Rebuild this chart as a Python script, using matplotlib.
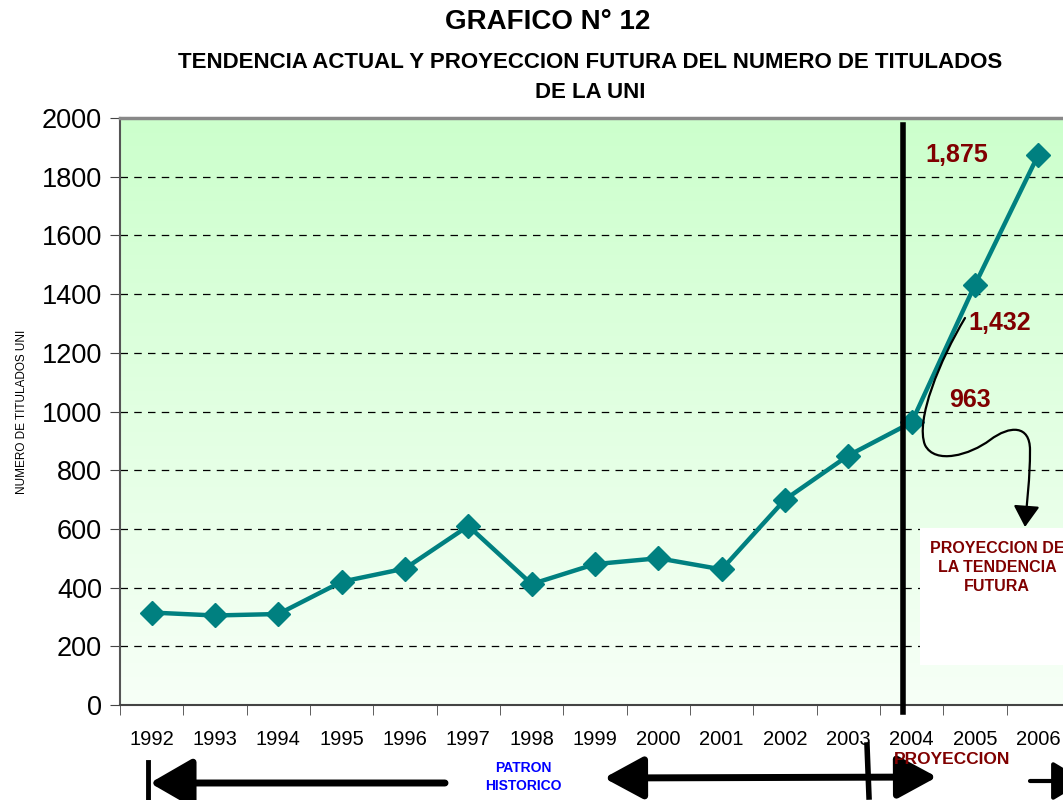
import matplotlib
matplotlib.use("Agg")
import matplotlib.pyplot as plt
import numpy as np
from matplotlib.path import Path
from matplotlib.patches import FancyArrowPatch, Rectangle
from matplotlib.lines import Line2D
from matplotlib.colors import LinearSegmentedColormap

years = ["1992", "1993", "1994", "1995", "1996", "1997", "1998", "1999",
         "2000", "2001", "2002", "2003", "2004", "2005", "2006"]
titulados = [315, 305, 310, 420, 465, 610, 412, 480, 500, 462, 700, 850, 963, 1432, 1875]
labels_proj = {"2004": "963", "2005": "1,432", "2006": "1,875"}

plt.rcParams['font.family'] = ['Liberation Sans', 'DejaVu Sans']

W, H = 1063, 800
fig = plt.figure(figsize=(W / 100, H / 100), dpi=100)

def px(x, y):
    return (x / W, 1 - y / H)

left, right, top, bottom = 120, 1070, 118, 705
ax = fig.add_axes([left / W, 1 - bottom / H, (right - left) / W, (bottom - top) / H])

x = np.arange(len(years))
ax.set_xlim(-0.5, len(years) - 0.5)
ax.set_ylim(0, 2000)

# gradient background
cmap = LinearSegmentedColormap.from_list("g", ["#f7fff7", "#ccffcc"])
grad = np.linspace(0, 1, 256).reshape(-1, 1)
ax.imshow(grad, extent=[-0.5, len(years) - 0.5, 0, 2000], origin="lower",
          aspect="auto", cmap=cmap, zorder=0)

for yv in range(200, 2000, 200):
    ax.axhline(yv, color="black", lw=0.9, ls=(0, (6, 5)), zorder=1)

ax.plot(x, titulados, color="#008080", lw=3.2, marker="D", markersize=12,
        zorder=4, clip_on=False)

ax.set_yticks(range(0, 2001, 200))
ax.tick_params(axis="y", labelsize=19.5, length=7, direction="out", color="#444444", pad=6)
ax.set_xticks(x)
ax.set_xticklabels(years, fontsize=14.5)
ax.tick_params(axis="x", which="major", length=0, pad=18)
ax.set_xticks(np.arange(-0.5, len(years), 1), minor=True)
ax.tick_params(axis="x", which="minor", length=7, color="#444444")
ax.set_ylabel("NUMERO DE TITULADOS UNI", fontsize=8.5, labelpad=10)

ax.spines["right"].set_visible(False)
ax.spines["top"].set_color("#888888")
ax.spines["top"].set_linewidth(2.5)
ax.spines["left"].set_color("#555555")
ax.spines["left"].set_linewidth(1.5)
ax.spines["bottom"].set_color("#444444")
ax.spines["bottom"].set_linewidth(1.5)

# titles
fig.text(*px(548, 22), "GRAFICO N° 12", ha="center", va="center", fontsize=20, fontweight="bold")
fig.text(*px(590, 62), "TENDENCIA ACTUAL Y PROYECCION FUTURA DEL NUMERO DE TITULADOS",
         ha="center", va="center", fontsize=16, fontweight="bold")
fig.text(*px(590, 93), "DE LA UNI", ha="center", va="center", fontsize=16, fontweight="bold")

dred = "#800000"
# value labels
fig.text(*px(957, 155), labels_proj["2006"], ha="center", va="center", fontsize=18, fontweight="bold", color=dred)
fig.text(*px(1000, 323), labels_proj["2005"], ha="center", va="center", fontsize=18, fontweight="bold", color=dred)
fig.text(*px(970, 400), labels_proj["2004"], ha="center", va="center", fontsize=18, fontweight="bold", color=dred)

# white box with projection text
bx0, by0 = px(920, 665)
bx1, by1 = px(1075, 528)
fig.add_artist(Rectangle((bx0, by0), bx1 - bx0, by1 - by0, transform=fig.transFigure,
                         facecolor="white", edgecolor="none", zorder=3))
fig.text(*px(997, 541), "PROYECCION DE\nLA TENDENCIA\nFUTURA", ha="center", va="top",
         fontsize=11.5, fontweight="bold", color=dred, linespacing=1.35, zorder=5)

# vertical divider line
fig.add_artist(Line2D([903 / W, 903 / W], [1 - 125 / H, 1 - 712 / H], transform=fig.transFigure,
                      color="black", lw=4, zorder=6))

# curvy arrow
pts = [(965, 318), (940, 360), (915, 420), (925, 445),
       (935, 465), (970, 455), (990, 440),
       (1010, 425), (1030, 425), (1030, 450),
       (1030, 480), (1027, 500), (1025, 527)]
codes = [Path.MOVETO] + [Path.CURVE4] * 12
path = Path([px(*p) for p in pts], codes)
fig.add_artist(FancyArrowPatch(path=path, transform=fig.transFigure,
                               arrowstyle="-|>,head_length=13,head_width=8",
                               color="black", lw=1.6, zorder=6))

# bottom arrows and text
fig.text(*px(523, 777), "PATRON\nHISTORICO", ha="center", va="center", fontsize=10,
         fontweight="bold", color="#0000ff", linespacing=1.4)
fig.text(*px(952, 760), "PROYECCION", ha="center", va="center", fontsize=12.5,
         fontweight="bold", color=dred, zorder=7)

def arrow(p0, p1, style, lw=5):
    fig.add_artist(FancyArrowPatch(px(*p0), px(*p1), transform=fig.transFigure,
                                   arrowstyle=style, color="black", lw=lw,
                                   mutation_scale=1, shrinkA=0, shrinkB=0))

arrow((445, 783), (150, 783), "-|>,head_length=26,head_width=15")
arrow((604, 778), (937, 777), "<|-|>,head_length=24,head_width=13")
arrow((1030, 781), (1085, 781), "-|>,head_length=20,head_width=12", lw=3)
fig.add_artist(Line2D([148 / W, 148 / W], [1 - 762 / H, 0], transform=fig.transFigure, color="black", lw=3.5))
fig.add_artist(Line2D([867 / W, 869 / W], [1 - 745 / H, 1 - 797 / H], transform=fig.transFigure, color="black", lw=4))

fig.savefig("out.png", dpi=100)
